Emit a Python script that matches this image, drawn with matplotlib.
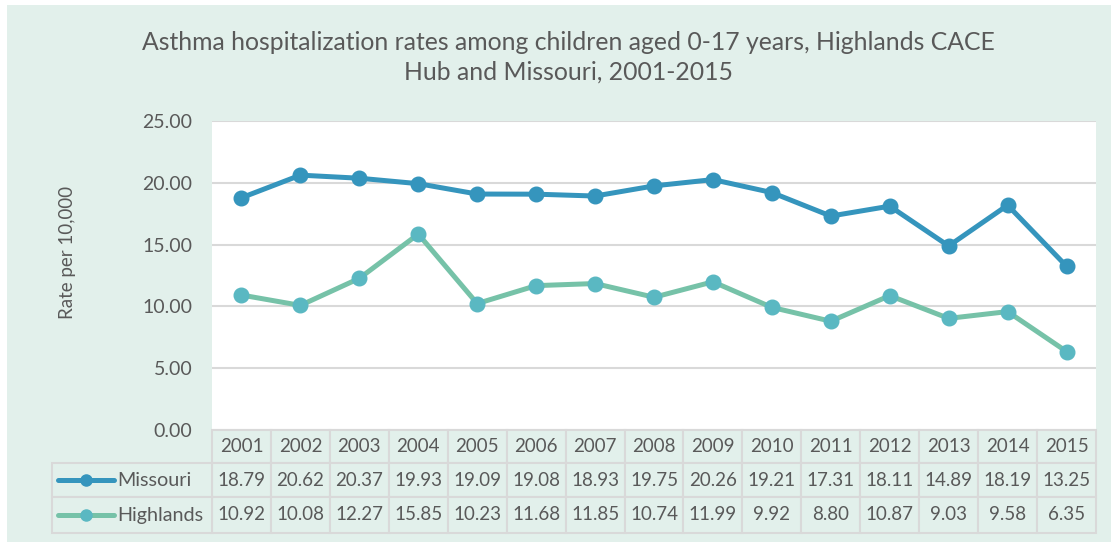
import matplotlib
matplotlib.use("Agg")
import matplotlib.pyplot as plt
from matplotlib.patches import Rectangle
from matplotlib.lines import Line2D
from matplotlib.transforms import blended_transform_factory

years = ["2001", "2002", "2003", "2004", "2005", "2006", "2007", "2008",
         "2009", "2010", "2011", "2012", "2013", "2014", "2015"]
missouri = [18.79, 20.62, 20.37, 19.93, 19.09, 19.08, 18.93, 19.75,
            20.26, 19.21, 17.31, 18.11, 14.89, 18.19, 13.25]
highlands = [10.92, 10.08, 12.27, 15.85, 10.23, 11.68, 11.85, 10.74,
             11.99, 9.92, 8.80, 10.87, 9.03, 9.58, 6.35]
series_names = ["Missouri", "Highlands"]
yticks = [0, 5, 10, 15, 20, 25]

BG = "#E2F0EB"
TXT = "#595959"
GRID = "#D9D9D9"
C_MO = "#3595BD"
C_HL_LINE = "#76C2A8"
C_HL_MK = "#5AB8C2"
FONT = "Lato"

W, H = 1111, 542
fig = plt.figure(figsize=(W / 100, H / 100), dpi=100)
fig.patch.set_facecolor("white")
fig.patches.append(Rectangle((7 / W, 0), 1 - 7 / W, 1 - 5 / H, transform=fig.transFigure,
                             facecolor=BG, edgecolor="none", zorder=-10))

left, right, top, bottom = 212, 1096, 121, 430
ax = fig.add_axes([left / W, 1 - bottom / H, (right - left) / W, (bottom - top) / H])
ax.set_facecolor("white")

x = list(range(len(years)))
ax.plot(x, missouri, color=C_MO, lw=3.6, marker="o", ms=10.5, mfc=C_MO, mec=C_MO,
        solid_capstyle="round", zorder=3)
ax.plot(x, highlands, color=C_HL_LINE, lw=3.6, marker="o", ms=10.5, mfc=C_HL_MK, mec=C_HL_MK,
        solid_capstyle="round", zorder=3)

ax.set_xlim(-0.5, len(years) - 0.5)
ax.set_ylim(0, 25)
ax.set_yticks(yticks)
ax.set_yticklabels([f"{v:.2f}" for v in yticks], fontsize=14, color=TXT, family=FONT)
ax.tick_params(axis="y", length=0, pad=14)
ax.set_xticks([])
ax.grid(axis="y", color=GRID, lw=1.5)
ax.set_axisbelow(True)
for s in ax.spines.values():
    s.set_visible(False)

fig.text(67 / W, 1 - 252 / H, "Rate per 10,000", rotation=90, ha="center", va="center",
         fontsize=13.5, color=TXT, family=FONT)

fig.text(568 / W, 1 - 43 / H, "Asthma hospitalization rates among children aged 0-17 years, Highlands CACE",
         ha="center", va="center", fontsize=17.8, color=TXT, family=FONT)
fig.text(568 / W, 1 - 72 / H, "Hub and Missouri, 2001-2015",
         ha="center", va="center", fontsize=17.8, color=TXT, family=FONT)

# data table
tr = blended_transform_factory(ax.transData, fig.transFigure)
row_edges = [430, 463, 497, 533]
rows = [years, [f"{v:.2f}" for v in missouri], [f"{v:.2f}" for v in highlands]]
for r in range(3):
    y0 = 1 - row_edges[r + 1] / H
    y1 = 1 - row_edges[r] / H
    for i in x:
        ax.add_patch(Rectangle((i - 0.5, y0), 1, y1 - y0, transform=tr, facecolor=BG,
                               edgecolor=GRID, lw=1.5, clip_on=False, zorder=1))
        ax.text(i, (y0 + y1) / 2, rows[r][i], transform=tr, ha="center", va="center",
                fontsize=13.5, color=TXT, family=FONT, clip_on=False)

lx0, lx1 = 52 / W, left / W
for k, (name, lc, mc) in enumerate(zip(series_names, [C_MO, C_HL_LINE], [C_MO, C_HL_MK])):
    y0 = 1 - row_edges[k + 2] / H
    y1 = 1 - row_edges[k + 1] / H
    fig.patches.append(Rectangle((lx0, y0), lx1 - lx0, y1 - y0, transform=fig.transFigure,
                                 facecolor=BG, edgecolor=GRID, lw=1.5, zorder=0))
    ym = (y0 + y1) / 2
    fig.add_artist(Line2D([58 / W, 114 / W], [ym, ym], color=lc, lw=3.6,
                          solid_capstyle="round", transform=fig.transFigure))
    fig.add_artist(Line2D([86 / W], [ym], marker="o", ms=8, mfc=mc, mec=mc,
                          transform=fig.transFigure))
    fig.text(117 / W, ym, name, ha="left", va="center", fontsize=14.2, color=TXT, family=FONT)

fig.savefig("out.png", dpi=100, facecolor=fig.get_facecolor())
